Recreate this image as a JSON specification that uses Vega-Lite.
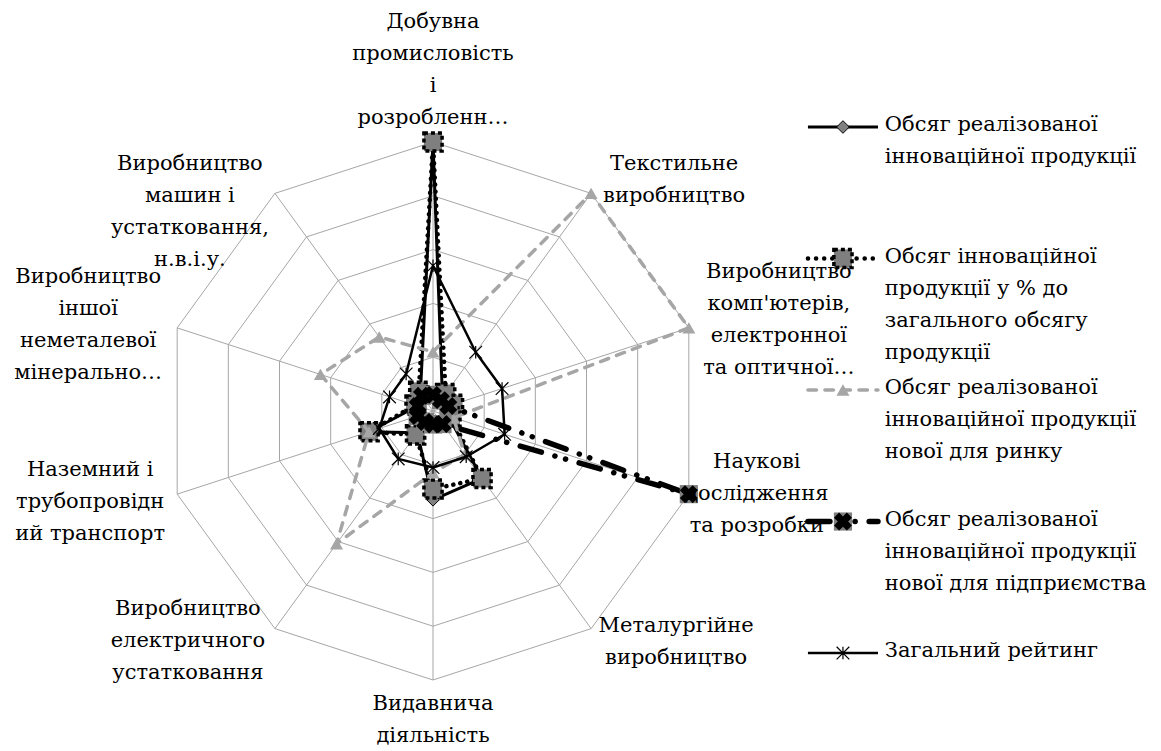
{
  "$schema": "https://vega.github.io/schema/vega-lite/v6.json",
  "padding": 0,
  "spacing": 0,
  "bounds": "flush",
  "background": "white",
  "config": {
    "view": {"stroke": null},
    "font": "DejaVu Serif",
    "text": {"font": "DejaVu Serif", "fontSize": 21, "lineHeight": 32, "color": "black", "lineBreak": "\n"}
  },
  "datasets": {
    "vals": [
      {"s": 1, "k": 0, "v": 1.0}, {"s": 1, "k": 1, "v": 0.06}, {"s": 1, "k": 2, "v": 0.07}, {"s": 1, "k": 3, "v": 0.06}, {"s": 1, "k": 4, "v": 0.31},
      {"s": 1, "k": 5, "v": 0.33}, {"s": 1, "k": 6, "v": 0.10}, {"s": 1, "k": 7, "v": 0.25}, {"s": 1, "k": 8, "v": 0.06}, {"s": 1, "k": 9, "v": 0.08},
      {"s": 2, "k": 0, "v": 1.0}, {"s": 2, "k": 1, "v": 0.08}, {"s": 2, "k": 2, "v": 0.08}, {"s": 2, "k": 3, "v": 0.07}, {"s": 2, "k": 4, "v": 0.31},
      {"s": 2, "k": 5, "v": 0.29}, {"s": 2, "k": 6, "v": 0.11}, {"s": 2, "k": 7, "v": 0.25}, {"s": 2, "k": 8, "v": 0.07}, {"s": 2, "k": 9, "v": 0.09},
      {"s": 3, "k": 0, "v": 0.22}, {"s": 3, "k": 1, "v": 1.0}, {"s": 3, "k": 2, "v": 1.0}, {"s": 3, "k": 3, "v": 0.08}, {"s": 3, "k": 4, "v": 0.20},
      {"s": 3, "k": 5, "v": 0.23}, {"s": 3, "k": 6, "v": 0.61}, {"s": 3, "k": 7, "v": 0.25}, {"s": 3, "k": 8, "v": 0.44}, {"s": 3, "k": 9, "v": 0.34},
      {"s": 4, "k": 0, "v": 0.06}, {"s": 4, "k": 1, "v": 0.05}, {"s": 4, "k": 2, "v": 0.06}, {"s": 4, "k": 3, "v": 1.0}, {"s": 4, "k": 4, "v": 0.06},
      {"s": 4, "k": 5, "v": 0.05}, {"s": 4, "k": 6, "v": 0.05}, {"s": 4, "k": 7, "v": 0.06}, {"s": 4, "k": 8, "v": 0.06}, {"s": 4, "k": 9, "v": 0.07},
      {"s": 5, "k": 0, "v": 0.54}, {"s": 5, "k": 1, "v": 0.27}, {"s": 5, "k": 2, "v": 0.27}, {"s": 5, "k": 3, "v": 0.28}, {"s": 5, "k": 4, "v": 0.21},
      {"s": 5, "k": 5, "v": 0.21}, {"s": 5, "k": 6, "v": 0.22}, {"s": 5, "k": 7, "v": 0.21}, {"s": 5, "k": 8, "v": 0.17}, {"s": 5, "k": 9, "v": 0.17}
    ],
    "cats": [
      {"k": 0, "label": "Добувна\nпромисловість\nі\nрозробленн…"},
      {"k": 1, "label": "Текстильне\nвиробництво"},
      {"k": 2, "label": "Виробництво\nкомп'ютерів,\nелектронної\nта оптичної…"},
      {"k": 3, "label": "Наукові\nдослідження\nта розробки"},
      {"k": 4, "label": "Металургійне\nвиробництво"},
      {"k": 5, "label": "Видавнича\nдіяльність"},
      {"k": 6, "label": "Виробництво\nелектричного\nустатковання"},
      {"k": 7, "label": "Наземний і\nтрубопровідн\nий транспорт"},
      {"k": 8, "label": "Виробництво\nіншої\nнеметалевої\nмінерально…"},
      {"k": 9, "label": "Виробництво\nмашин і\nустатковання,\nн.в.і.у."}
    ],
    "levels": [{"level": 0}, {"level": 0.2}, {"level": 0.4}, {"level": 0.6}, {"level": 0.8}, {"level": 1}],
    "rings": [
      {"level": 0.2, "ks": [0, 1, 2, 3, 4, 5, 6, 7, 8, 9]},
      {"level": 0.4, "ks": [0, 1, 2, 3, 4, 5, 6, 7, 8, 9]},
      {"level": 0.6, "ks": [0, 1, 2, 3, 4, 5, 6, 7, 8, 9]},
      {"level": 0.8, "ks": [0, 1, 2, 3, 4, 5, 6, 7, 8, 9]},
      {"level": 1.0, "ks": [0, 1, 2, 3, 4, 5, 6, 7, 8, 9]}
    ],
    "legend": [
      {"s": 1, "label": "Обсяг реалізованої\nінноваційної продукції"},
      {"s": 2, "label": "Обсяг  інноваційної\nпродукції у % до\nзагального обсягу\nпродукції"},
      {"s": 3, "label": "Обсяг реалізованої\nінноваційної продукції\nнової для ринку"},
      {"s": 4, "label": "Обсяг реалізованої\nінноваційної продукції\nнової для підприємства"},
      {"s": 5, "label": "Загальний рейтинг"}
    ]
  },
  "hconcat": [
    {
      "width": 800,
      "height": 751,
      "encoding": {
        "x": {"field": "px", "type": "quantitative", "scale": {"domain": [-1.6097, 1.3643], "nice": false, "zero": false}, "axis": null},
        "y": {"field": "py", "type": "quantitative", "scale": {"domain": [-1.2639, 1.5279], "nice": false, "zero": false}, "axis": null}
      },
      "layer": [
        {
          "data": {"name": "rings"},
          "transform": [
            {"flatten": ["ks"], "as": ["k"]},
            {"calculate": "datum.level*sin(datum.k*PI/5)", "as": "px"},
            {"calculate": "datum.level*cos(datum.k*PI/5)", "as": "py"}
          ],
          "mark": {"type": "line", "interpolate": "linear-closed", "color": "#a6a6a6", "strokeWidth": 1},
          "encoding": {"detail": {"field": "level", "type": "nominal"}, "order": {"field": "k", "type": "quantitative"}}
        },
        {
          "data": {"name": "cats"},
          "transform": [
            {"calculate": "sin(datum.k*PI/5)", "as": "px"},
            {"calculate": "cos(datum.k*PI/5)", "as": "py"}
          ],
          "mark": {"type": "rule", "color": "#a6a6a6", "strokeWidth": 1},
          "encoding": {
            "x": {"datum": 0, "type": "quantitative"},
            "y": {"datum": 0, "type": "quantitative"},
            "x2": {"field": "px"},
            "y2": {"field": "py"}
          }
        },
        {
          "data": {"name": "levels"},
          "transform": [{"calculate": "replace(toString(datum.level), '.', ',')", "as": "lab"}],
          "mark": {"type": "text", "align": "right", "baseline": "middle", "dx": -17, "dy": 2},
          "encoding": {
            "x": {"datum": 0, "type": "quantitative"},
            "y": {"field": "level", "type": "quantitative"},
            "text": {"field": "lab"}
          }
        },
        {
          "data": {"name": "vals"},
          "transform": [
            {"calculate": "datum.v*sin(datum.k*PI/5)", "as": "px"},
            {"calculate": "datum.v*cos(datum.k*PI/5)", "as": "py"}
          ],
          "layer": [
            {"transform": [{"filter": "datum.s == 1"}], "mark": {"type": "line", "interpolate": "linear-closed", "color": "black", "strokeWidth": 3, "strokeJoin": "round"}, "encoding": {"order": {"field": "k", "type": "quantitative"}}},
            {"transform": [{"filter": "datum.s == 1"}], "mark": {"type": "point", "shape": "diamond", "filled": true, "fill": "#808080", "stroke": "black", "strokeWidth": 1, "size": 160, "opacity": 1}},
            {"transform": [{"filter": "datum.s == 2"}], "mark": {"type": "line", "interpolate": "linear-closed", "color": "black", "strokeWidth": 4.5, "strokeCap": "round", "strokeDash": [0.1, 7]}, "encoding": {"order": {"field": "k", "type": "quantitative"}}},
            {"transform": [{"filter": "datum.s == 2"}], "mark": {"type": "point", "shape": "square", "filled": true, "fill": "#7f7f7f", "stroke": "black", "strokeWidth": 3.5, "strokeDash": [4, 3], "size": 330, "opacity": 1}},
            {"transform": [{"filter": "datum.s == 3"}], "mark": {"type": "line", "interpolate": "linear-closed", "color": "#a6a6a6", "strokeWidth": 3.5, "strokeCap": "round", "strokeDash": [8.5, 8.5]}, "encoding": {"order": {"field": "k", "type": "quantitative"}}},
            {"transform": [{"filter": "datum.s == 3"}], "mark": {"type": "point", "shape": "triangle-up", "filled": true, "fill": "#a6a6a6", "size": 170, "opacity": 1}},
            {"transform": [{"filter": "datum.s == 4"}], "mark": {"type": "line", "interpolate": "linear-closed", "color": "black", "strokeWidth": 5.5, "strokeCap": "round", "strokeDash": [22, 14, 0.1, 11, 0.1, 14]}, "encoding": {"order": {"field": "k", "type": "quantitative"}}},
            {"transform": [{"filter": "datum.s == 4"}], "mark": {"type": "point", "shape": "square", "filled": true, "fill": "#808080", "size": 330, "opacity": 1}},
            {"transform": [{"filter": "datum.s == 4"}], "mark": {"type": "point", "shape": "cross", "angle": 45, "filled": true, "fill": "black", "size": 330, "opacity": 1}},
            {"transform": [{"filter": "datum.s == 5"}], "mark": {"type": "line", "interpolate": "linear-closed", "color": "black", "strokeWidth": 2.5, "strokeJoin": "round"}, "encoding": {"order": {"field": "k", "type": "quantitative"}}},
            {"transform": [{"filter": "datum.s == 5"}], "mark": {"type": "point", "shape": "M-1,-1L1,1M-1,1L1,-1M0,-1L0,1", "filled": false, "stroke": "black", "strokeWidth": 1.2, "size": 160, "opacity": 1}}
          ]
        },
        {
          "data": {"name": "cats"},
          "transform": [
            {"calculate": "sin(datum.k*PI/5)", "as": "px"},
            {"calculate": "cos(datum.k*PI/5)", "as": "py"}
          ],
          "encoding": {"text": {"field": "label"}},
          "layer": [
            {"transform": [{"filter": "datum.k == 0"}], "mark": {"type": "text", "align": "center", "baseline": "bottom", "dy": -110, "lineBreak": "\n"}},
            {"transform": [{"filter": "datum.k == 5"}], "mark": {"type": "text", "align": "center", "baseline": "top", "dy": 13, "lineBreak": "\n"}},
            {"transform": [{"filter": "datum.k == 1"}], "mark": {"type": "text", "align": "center", "baseline": "middle", "dx": 83, "dy": -29, "lineBreak": "\n"}},
            {"transform": [{"filter": "datum.k == 4"}], "mark": {"type": "text", "align": "center", "baseline": "middle", "dx": 85, "dy": -3, "lineBreak": "\n"}},
            {"transform": [{"filter": "datum.k == 3"}], "mark": {"type": "text", "align": "center", "baseline": "middle", "dx": 68, "dy": -32, "lineBreak": "\n"}},
            {"transform": [{"filter": "datum.k == 2"}], "mark": {"type": "text", "align": "center", "baseline": "middle", "dx": 90, "dy": -56, "lineBreak": "\n"}},
            {"transform": [{"filter": "datum.k == 6"}], "mark": {"type": "text", "align": "center", "baseline": "middle", "dx": -87, "dy": -20, "lineBreak": "\n"}},
            {"transform": [{"filter": "datum.k == 7"}], "mark": {"type": "text", "align": "center", "baseline": "middle", "dx": -87, "dy": -24, "lineBreak": "\n"}},
            {"transform": [{"filter": "datum.k == 8"}], "mark": {"type": "text", "align": "center", "baseline": "middle", "dx": -89, "dy": -51, "lineBreak": "\n"}},
            {"transform": [{"filter": "datum.k == 9"}], "mark": {"type": "text", "align": "center", "baseline": "middle", "dx": -85, "dy": -29, "lineBreak": "\n"}}
          ]
        }
      ]
    },
    {
      "width": 361,
      "height": 751,
      "data": {"name": "legend"},
      "encoding": {
        "y": {"field": "s", "type": "quantitative", "scale": {"domain": [0.0342, 5.745], "reverse": true, "nice": false, "zero": false}, "axis": null}
      },
      "layer": [
        {"transform": [{"filter": "datum.s == 1"}], "mark": {"type": "rule", "color": "black", "strokeWidth": 3}, "encoding": {"x": {"datum": 2.2, "type": "quantitative", "scale": {"domain": [0, 100], "nice": false, "zero": false}, "axis": null}, "x2": {"datum": 21.6}}},
        {"transform": [{"filter": "datum.s == 1"}], "mark": {"type": "point", "shape": "diamond", "filled": true, "fill": "#808080", "stroke": "black", "strokeWidth": 1, "size": 160, "opacity": 1}, "encoding": {"x": {"datum": 11.9, "type": "quantitative", "scale": {"domain": [0, 100], "nice": false, "zero": false}, "axis": null}}},
        {"transform": [{"filter": "datum.s == 2"}], "mark": {"type": "rule", "color": "black", "strokeWidth": 4.5, "strokeCap": "round", "strokeDash": [0.1, 8]}, "encoding": {"x": {"datum": 2.2, "type": "quantitative", "scale": {"domain": [0, 100], "nice": false, "zero": false}, "axis": null}, "x2": {"datum": 21.6}}},
        {"transform": [{"filter": "datum.s == 2"}], "mark": {"type": "point", "shape": "square", "filled": true, "fill": "#7f7f7f", "stroke": "black", "strokeWidth": 3.5, "strokeDash": [4, 3], "size": 330, "opacity": 1}, "encoding": {"x": {"datum": 11.9, "type": "quantitative", "scale": {"domain": [0, 100], "nice": false, "zero": false}, "axis": null}}},
        {"transform": [{"filter": "datum.s == 3"}], "mark": {"type": "rule", "color": "#a6a6a6", "strokeWidth": 3.5, "strokeCap": "round", "strokeDash": [8.5, 8.5]}, "encoding": {"x": {"datum": 2.2, "type": "quantitative", "scale": {"domain": [0, 100], "nice": false, "zero": false}, "axis": null}, "x2": {"datum": 21.6}}},
        {"transform": [{"filter": "datum.s == 3"}], "mark": {"type": "point", "shape": "triangle-up", "filled": true, "fill": "#a6a6a6", "size": 170, "opacity": 1}, "encoding": {"x": {"datum": 11.9, "type": "quantitative", "scale": {"domain": [0, 100], "nice": false, "zero": false}, "axis": null}}},
        {"transform": [{"filter": "datum.s == 4"}], "mark": {"type": "rule", "color": "black", "strokeWidth": 5.5, "strokeCap": "round", "strokeDash": [22, 14, 0.1, 11, 0.1, 14]}, "encoding": {"x": {"datum": 2.2, "type": "quantitative", "scale": {"domain": [0, 100], "nice": false, "zero": false}, "axis": null}, "x2": {"datum": 21.6}}},
        {"transform": [{"filter": "datum.s == 4"}], "mark": {"type": "point", "shape": "square", "filled": true, "fill": "#808080", "size": 330, "opacity": 1}, "encoding": {"x": {"datum": 11.9, "type": "quantitative", "scale": {"domain": [0, 100], "nice": false, "zero": false}, "axis": null}}},
        {"transform": [{"filter": "datum.s == 4"}], "mark": {"type": "point", "shape": "cross", "angle": 45, "filled": true, "fill": "black", "size": 330, "opacity": 1}, "encoding": {"x": {"datum": 11.9, "type": "quantitative", "scale": {"domain": [0, 100], "nice": false, "zero": false}, "axis": null}}},
        {"transform": [{"filter": "datum.s == 5"}], "mark": {"type": "rule", "color": "black", "strokeWidth": 2.5}, "encoding": {"x": {"datum": 2.2, "type": "quantitative", "scale": {"domain": [0, 100], "nice": false, "zero": false}, "axis": null}, "x2": {"datum": 21.6}}},
        {"transform": [{"filter": "datum.s == 5"}], "mark": {"type": "point", "shape": "M-1,-1L1,1M-1,1L1,-1M0,-1L0,1", "filled": false, "stroke": "black", "strokeWidth": 1.2, "size": 160, "opacity": 1}, "encoding": {"x": {"datum": 11.9, "type": "quantitative", "scale": {"domain": [0, 100], "nice": false, "zero": false}, "axis": null}}},
        {"mark": {"type": "text", "align": "left", "baseline": "top", "dy": -13, "lineBreak": "\n"}, "encoding": {"x": {"datum": 23.5, "type": "quantitative", "scale": {"domain": [0, 100], "nice": false, "zero": false}, "axis": null}, "text": {"field": "label"}}}
      ]
    }
  ]
}
